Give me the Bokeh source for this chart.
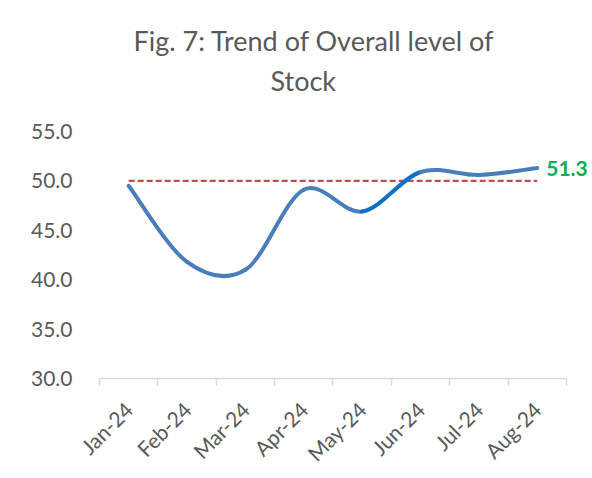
from math import pi
import numpy as np
from bokeh.plotting import figure
from bokeh.models import Range1d, FixedTicker, Title
from bokeh.core.properties import value
from bokeh.embed import file_html
from bokeh.resources import INLINE

months = ["Jan-24", "Feb-24", "Mar-24", "Apr-24", "May-24", "Jun-24", "Jul-24", "Aug-24"]
stock = [49.5, 41.8, 41.0, 49.1, 46.9, 50.9, 50.6, 51.3]
threshold = 50.0
y_ticks = [30, 35, 40, 45, 50, 55]
title_lines = ["Fig. 7: Trend of Overall level of", "Stock"]

FONT = "Lato"
TXT = "#595959"
BLUE = "#4A7EBB"
BLUE_DARK = "#1070C4"

p = figure(width=591, height=477, output_backend="svg", toolbar_location=None,
           x_range=Range1d(-0.5, 7.93), y_range=Range1d(30, 55),
           min_border_left=99, min_border_right=0, min_border_top=131, min_border_bottom=99)
p.background_fill_color = "white"
p.border_fill_color = "white"
p.outline_line_color = None
p.xgrid.visible = False
p.ygrid.visible = False

p.title.text = title_lines[0]
p.title.align = "left"
p.title.offset = 34
p.title.standoff = -60
p.title.text_font = FONT
p.title.text_font_size = "27px"
p.title.text_font_style = "normal"
p.title.text_color = TXT

t2 = Title(text=title_lines[1], align="left", offset=171, standoff=70,
           text_font=FONT, text_font_size="27px", text_font_style="normal", text_color=TXT)
p.add_layout(t2, "above")

# y axis
ya = p.yaxis[0]
ya.ticker = FixedTicker(ticks=y_ticks)
ya.major_label_overrides = {t: f"{t:.1f}" for t in y_ticks}
ya.axis_line_color = None
ya.major_tick_line_color = None
ya.minor_tick_line_color = None
ya.major_tick_out = 0
ya.major_label_standoff = 27
ya.major_label_text_font = FONT
ya.major_label_text_font_size = "21px"
ya.major_label_text_color = TXT

# x axis
xa = p.xaxis[0]
idx = list(range(len(months)))
xa.ticker = FixedTicker(ticks=idx, minor_ticks=[i - 0.5 for i in range(len(months) + 1)])
xa.major_label_overrides = {i: m for i, m in zip(idx, months)}
xa.bounds = (-0.5, len(months) - 0.5)
xa.axis_line_color = "#D9D9D9"
xa.axis_line_width = 1.5
xa.major_tick_line_color = None
xa.major_tick_out = 0
xa.minor_tick_line_color = "#D9D9D9"
xa.minor_tick_line_width = 1.5
xa.minor_tick_out = 7
xa.minor_tick_in = 0
xa.major_label_orientation = pi / 4
xa.major_label_standoff = 20
xa.major_label_text_font = FONT
xa.major_label_text_font_size = "21px"
xa.major_label_text_color = TXT

# reference line at 50
p.line(x=idx, y=[threshold] * len(idx), line_color="#C0504D", line_width=2.4,
       line_dash="6 3")

# smoothed curve (Bezier through data points)
x = np.arange(len(stock), dtype=float)
y = np.array(stock, dtype=float)
xp = np.concatenate([[x[0]], x, [x[-1]]])
yp = np.concatenate([[y[0]], y, [y[-1]]])
cx0 = xp[1:-2] + (xp[2:-1] - xp[:-3]) / 6
cy0 = yp[1:-2] + (yp[2:-1] - yp[:-3]) / 6
cx1 = xp[2:-1] - (xp[3:] - xp[1:-2]) / 6
cy1 = yp[2:-1] - (yp[3:] - yp[1:-2]) / 6
colors = [BLUE] * (len(stock) - 1)
colors[4] = BLUE_DARK
p.bezier(x0=x[:-1], y0=y[:-1], x1=x[1:], y1=y[1:], cx0=cx0, cy0=cy0, cx1=cx1, cy1=cy1,
         line_color=colors, line_width=4, line_cap="round")

# data label for last point
p.text(x=[x[-1]], y=[stock[-1]], text=[f"{stock[-1]:.1f}"], x_offset=9,
       text_baseline="middle", text_align="left", text_font=value(FONT),
       text_font_style="bold", text_font_size="21px", text_color="#00B050")

open("out.html", "w").write(file_html(p, INLINE))
